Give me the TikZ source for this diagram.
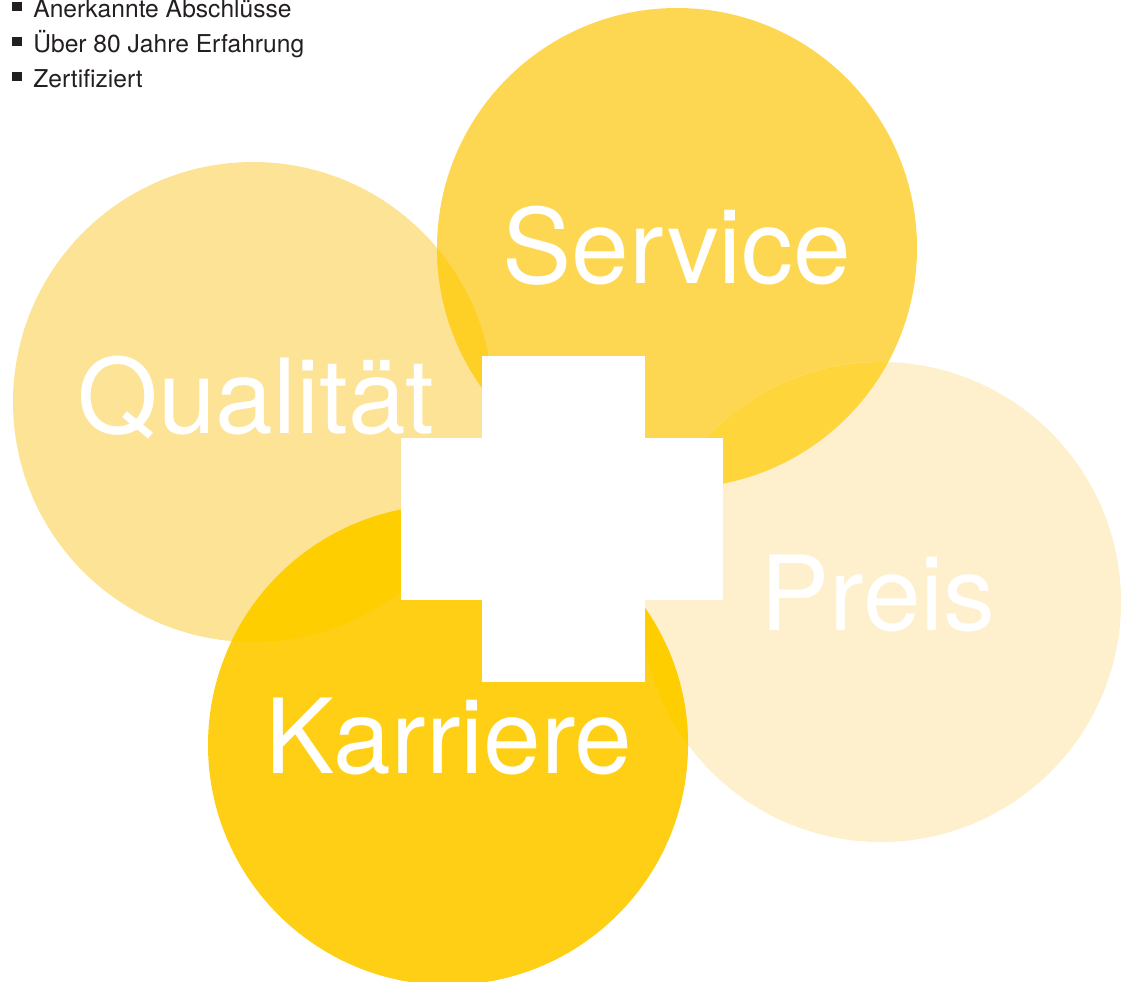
\documentclass[tikz,border=0pt]{standalone}
\usepackage{fontspec}
\setmainfont{TeX Gyre Heros}
\usepackage{tikz}
\usetikzlibrary{positioning}
\definecolor{qualcol}{HTML}{FDE396}
\definecolor{servcol}{HTML}{FDD752}
\definecolor{preiscol}{HTML}{FEF0CC}
\definecolor{karrcol}{HTML}{FECF15}
\definecolor{qscol}{HTML}{FECF25}
\definecolor{spcol}{HTML}{FED53A}
\definecolor{deepcol}{HTML}{FECE00}
\definecolor{itemcol}{HTML}{231F20}
\tikzset{
    bubble/.style={
    draw=none
    },
    bigword/.style={
    anchor=base,text=white,inner sep=0pt,font=\fontsize{59}{61}\selectfont
    },
    itemtext/.style={
    anchor=base west,text=itemcol,inner sep=0pt,font=\fontsize{14}{16}\selectfont
    },
    itembox/.style={
    rectangle,fill=itemcol,inner sep=0pt,minimum size=0.19cm
    },
}

\begin{document}
\begin{tikzpicture}[x=0.02cm, y=-0.02cm]
  \useasboundingbox (0,0) rectangle (1131,981);
  % circle centres
  \coordinate (q) at (253,402);
  \coordinate (s) at (677,248);
  \coordinate (p) at (881,602);
  \coordinate (k) at (448,745);

  \fill[bubble,qualcol] (q) circle [radius=240];
  \fill[bubble,servcol] (s) circle [radius=240];
  \fill[bubble,preiscol] (p) circle [radius=240];
  \fill[bubble,karrcol] (k) circle [radius=240];

  % overlaps
  \begin{scope}
    \clip (q) circle [radius=240];
    \fill[qscol] (s) circle [radius=240];
    \fill[deepcol] (k) circle [radius=240];
  \end{scope}
  \begin{scope}
    \clip (p) circle [radius=240];
    \fill[spcol] (s) circle [radius=240];
    \fill[deepcol] (k) circle [radius=240];
  \end{scope}

  % cross
  \fill[white] (482,356) rectangle (645,682);
  \fill[white] (401,438) rectangle (723,600);

  \node[bigword] (qual) at (256,433) {Qualität};
  \node[bigword] (serv) at (677,283) {Service};
  \node[bigword] (preis) at (878,630) {Preis};
  \node[bigword] (karr) at (449,773) {Karriere};

  % list top left
  \foreach \t [count=\i] in {Anerkannte Abschlüsse,Über 80 Jahre Erfahrung,Zertifiziert}{
    \node[itemtext] (item\i) at (33,{17+35*(\i-1)}) {\t};
    \node[itembox] (box\i) at (17,{6.5+35*(\i-1)}) {};
  }
\end{tikzpicture}
\end{document}
